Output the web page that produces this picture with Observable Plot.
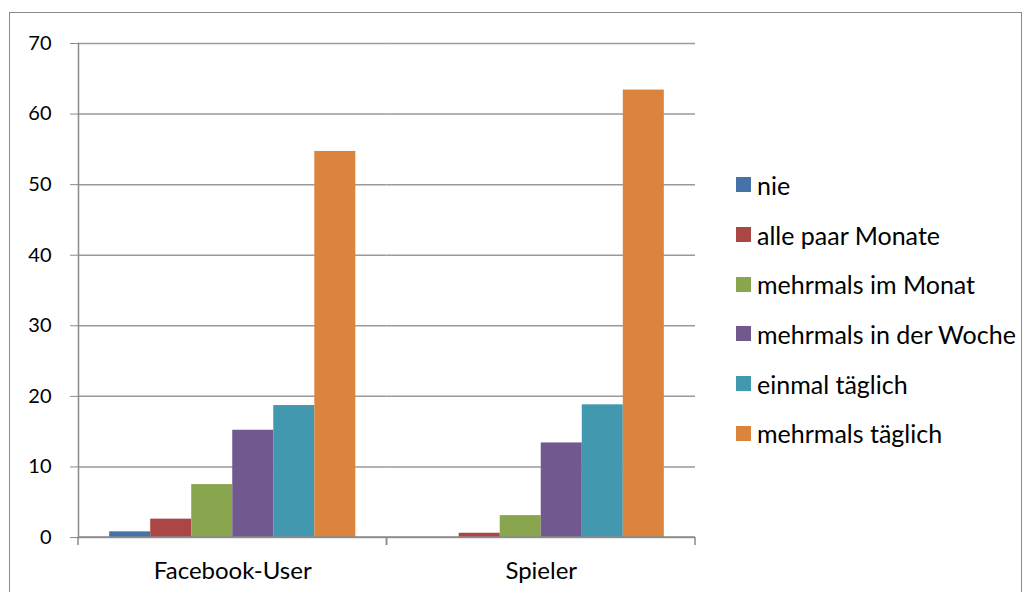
<!DOCTYPE html>
<html><head><meta charset="utf-8">
<script src="https://cdn.jsdelivr.net/npm/d3@7"></script>
<script src="https://cdn.jsdelivr.net/npm/@observablehq/plot@0.6"></script>
<style>
body{margin:0;background:#fff;font-family:Lato, sans-serif;}
#wrap{position:relative;width:1033px;height:592px;overflow:hidden;background:#fff;}
#border{position:absolute;left:9px;top:12px;width:1013px;height:620px;border:1.5px solid #8a8a8a;box-sizing:border-box;}
#chart{position:absolute;left:0;top:0;}
#legend{position:absolute;left:736px;top:160px;}
.item{display:flex;align-items:center;height:49.7px;font-size:25px;color:#000;white-space:nowrap;}
.sw{width:15px;height:15px;margin-right:6px;flex:none;}
</style></head><body>
<div id="wrap"><div id="border"></div><div id="chart"></div><div id="legend"></div></div>
<script>
const categories = ["Facebook-User", "Spieler"];
const series = ["nie", "alle paar Monate", "mehrmals im Monat", "mehrmals in der Woche", "einmal täglich", "mehrmals täglich"];
const facebookUser = [0.8, 2.6, 7.5, 15.2, 18.7, 54.7];
const spieler = [0, 0.6, 3.1, 13.4, 18.8, 63.4];
const colors = ["#4572A7", "#AA4643", "#89A54E", "#71588F", "#4198AF", "#DB843D"];
const yTicks = [0, 10, 20, 30, 40, 50, 60, 70];

const valuesByCategory = [facebookUser, spieler];
const data = [];
categories.forEach((c, i) => series.forEach((s, j) => data.push({category: c, series: s, value: valuesByCategory[i][j]})));

const edgeTicks = (index, scales, values, dims) => {
  const g = d3.create("svg:g").attr("stroke", "#8a8a8a").attr("stroke-width", 1.5);
  const l = dims.marginLeft, r = dims.width - dims.marginRight, b = dims.height - dims.marginBottom;
  g.append("line").attr("x1", l).attr("x2", r).attr("y1", b).attr("y2", b);
  g.append("line").attr("x1", l).attr("x2", l).attr("y1", b).attr("y2", b + 8);
  g.append("line").attr("x1", r).attr("x2", r).attr("y1", b).attr("y2", b + 8);
  return g.node();
};

const chart = Plot.plot({
  width: 1033,
  height: 592,
  marginLeft: 78,
  marginRight: 338,
  marginTop: 43,
  marginBottom: 55,
  style: {fontFamily: "Lato, sans-serif", fontSize: "20px", color: "#000", background: "transparent"},
  fx: {domain: categories, padding: 0, round: false, label: null},
  x: {domain: series, paddingInner: 0, paddingOuter: 0.76, round: false, axis: null},
  y: {domain: [0, 70], axis: null},
  color: {domain: series, range: colors},
  marks: [
    Plot.gridY(yTicks, {stroke: "#9a9a9a", strokeOpacity: 1, strokeWidth: 1.5}),
    Plot.barY(data, {fx: "category", x: "series", y: "value", fill: "series"}),
    edgeTicks,
    Plot.frame({anchor: "left", facetAnchor: "left", stroke: "#8a8a8a", strokeWidth: 1.5}),
    Plot.axisY(yTicks, {tickSize: 8, tickPadding: 19, stroke: "#8a8a8a", fill: "#000", fontSize: 20, label: null}),
    Plot.axisFx({anchor: "bottom", tickSize: 0, tickPadding: 24, fontSize: 24, label: null, fill: "#000"})
  ]
});
document.getElementById("chart").appendChild(chart);

const legend = document.getElementById("legend");
series.forEach((s, i) => {
  const item = document.createElement("div");
  item.className = "item";
  const sw = document.createElement("span");
  sw.className = "sw";
  sw.style.background = colors[i];
  const t = document.createElement("span");
  t.textContent = s;
  item.appendChild(sw);
  item.appendChild(t);
  legend.appendChild(item);
});
</script>
</body></html>
